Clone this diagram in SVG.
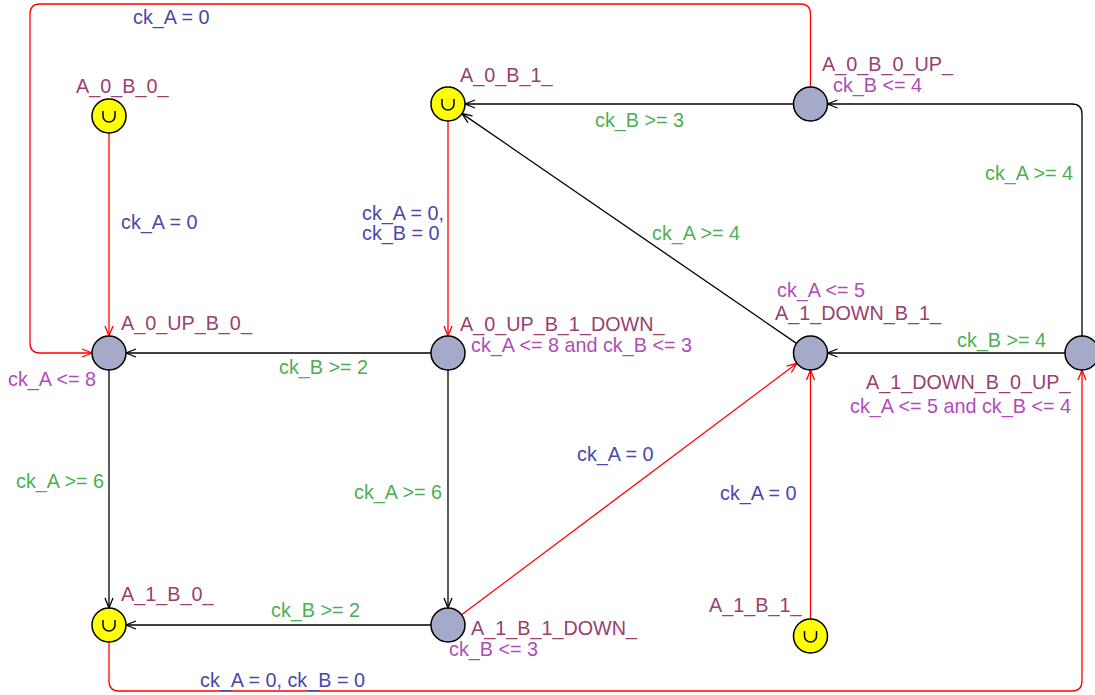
<svg xmlns="http://www.w3.org/2000/svg" width="1095" height="695" viewBox="0 0 1095 695">
<style>
text{font-family:"Liberation Sans",Arial,sans-serif;font-size:19.8px}
.nm{fill:#994070}
.inv{fill:#b04cb8}
.gd{fill:#4caf50}
.as{fill:#4848a8}
.loc{fill:#a4aac8;stroke:#000;stroke-width:1.5}
.urg{fill:#ffff00;stroke:#000;stroke-width:1.5}
.u{fill:none;stroke:#000;stroke-width:1.5}
.e{fill:none;stroke:#000;stroke-width:1.3;marker-end:url(#ab)}
.r{fill:none;stroke:#ff0000;stroke-width:1.3;marker-end:url(#ar)}
</style>
<defs>
<marker id="ab" markerUnits="userSpaceOnUse" markerWidth="14" markerHeight="12" refX="10" refY="5" orient="auto" overflow="visible"><path d="M0,1 L10,5 L0,9" fill="none" stroke="#000" stroke-width="1.3"/></marker>
<marker id="ar" markerUnits="userSpaceOnUse" markerWidth="14" markerHeight="12" refX="10" refY="5" orient="auto" overflow="visible"><path d="M0,1 L10,5 L0,9" fill="none" stroke="#ff0000" stroke-width="1.3"/></marker>
</defs>
<rect width="1095" height="695" fill="#fff"/>
<g id="connectors">
<path class="r" d="M109,133 L109,336"/>
<path class="r" d="M810.5,87 L810.5,14 Q810.5,4 800.5,4 L40,4 Q30,4 30,14 L30,343 Q30,353 40,353 L92,353"/>
<path class="e" d="M793.5,104 L465,104"/>
<path class="r" d="M448,121 L448,336"/>
<path class="e" d="M1082,336 L1082,114 Q1082,104 1072,104 L827.5,104"/>
<path class="e" d="M796.5,343.4 L462,113.6"/>
<path class="e" d="M431,353 L126,353"/>
<path class="e" d="M1065,353 L827.5,353"/>
<path class="e" d="M109,370 L109,608"/>
<path class="e" d="M448,370 L448,608"/>
<path class="e" d="M431,625 L126,625"/>
<path class="r" d="M461.6,614.8 L797,363.3"/>
<path class="r" d="M810.5,619 L810.5,370"/>
<path class="r" d="M109,642 L109,681 Q109,691 119,691 L1072,691 Q1082,691 1082,681 L1082,370"/>
<text class="as" x="133" y="24">ck_A = 0</text>
<text class="gd" x="595" y="127">ck_B &gt;= 3</text>
<text class="gd" x="985" y="180">ck_A &gt;= 4</text>
<text class="as" x="121" y="229">ck_A = 0</text>
<text class="as" x="362" y="220">ck_A = 0,</text>
<text class="as" x="362" y="240">ck_B = 0</text>
<text class="gd" x="652" y="240">ck_A &gt;= 4</text>
<text class="gd" x="957" y="347">ck_B &gt;= 4</text>
<text class="gd" x="279" y="374">ck_B &gt;= 2</text>
<text class="as" x="577" y="461">ck_A = 0</text>
<text class="gd" x="16" y="488">ck_A &gt;= 6</text>
<text class="gd" x="354" y="499">ck_A &gt;= 6</text>
<text class="as" x="720" y="500">ck_A = 0</text>
<text class="gd" x="271" y="617">ck_B &gt;= 2</text>
<text class="as" x="200" y="687">ck_A = 0, ck_B = 0</text>
</g>
<g id="A_0_B_0_">
<circle class="urg" cx="109" cy="116" r="17"/>
<path class="u" d="M103,111 L103,116 A6,6 0 0 0 115,116 L115,111"/>
<text class="nm" x="76" y="93">A_0_B_0_</text>
</g>
<g id="A_0_B_1_">
<circle class="urg" cx="448" cy="104" r="17"/>
<path class="u" d="M442,99 L442,104 A6,6 0 0 0 454,104 L454,99"/>
<text class="nm" x="460" y="82">A_0_B_1_</text>
</g>
<g id="A_0_B_0_UP_">
<circle class="loc" cx="810.5" cy="104" r="17"/>
<text class="nm" x="822" y="71">A_0_B_0_UP_</text>
<text class="inv" x="833" y="92">ck_B &lt;= 4</text>
</g>
<g id="A_0_UP_B_0_">
<circle class="loc" cx="109" cy="353" r="17"/>
<text class="nm" x="121" y="330">A_0_UP_B_0_</text>
<text class="inv" x="8" y="386">ck_A &lt;= 8</text>
</g>
<g id="A_0_UP_B_1_DOWN_">
<circle class="loc" cx="448" cy="353" r="17"/>
<text class="nm" x="460" y="331">A_0_UP_B_1_DOWN_</text>
<text class="inv" x="471" y="352">ck_A &lt;= 8 and ck_B &lt;= 3</text>
</g>
<g id="A_1_DOWN_B_1_">
<circle class="loc" cx="810.5" cy="353" r="17"/>
<text class="inv" x="777" y="297">ck_A &lt;= 5</text>
<text class="nm" x="775" y="320">A_1_DOWN_B_1_</text>
</g>
<g id="A_1_DOWN_B_0_UP_">
<circle class="loc" cx="1082" cy="353" r="17"/>
<text class="nm" x="866" y="389">A_1_DOWN_B_0_UP_</text>
<text class="inv" x="850" y="413">ck_A &lt;= 5 and ck_B &lt;= 4</text>
</g>
<g id="A_1_B_0_">
<circle class="urg" cx="109" cy="625" r="17"/>
<path class="u" d="M103,620 L103,625 A6,6 0 0 0 115,625 L115,620"/>
<text class="nm" x="121" y="601">A_1_B_0_</text>
</g>
<g id="A_1_B_1_DOWN_">
<circle class="loc" cx="448" cy="625" r="17"/>
<text class="nm" x="471" y="635">A_1_B_1_DOWN_</text>
<text class="inv" x="449" y="656">ck_B &lt;= 3</text>
</g>
<g id="A_1_B_1_">
<circle class="urg" cx="810.5" cy="636" r="17"/>
<path class="u" d="M804.5,631 L804.5,636 A6,6 0 0 0 816.5,636 L816.5,631"/>
<text class="nm" x="709" y="612">A_1_B_1_</text>
</g>
</svg>
